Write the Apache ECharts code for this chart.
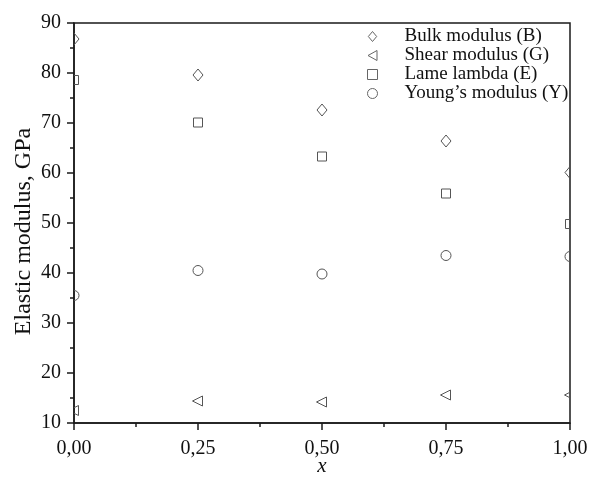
<!DOCTYPE html>
<html>
<head>
<meta charset="utf-8">
<script src="https://cdn.jsdelivr.net/npm/echarts@6/dist/echarts.min.js"></script>
<style>html,body{margin:0;padding:0;background:#fff}#c{width:599px;height:480px}</style>
</head>
<body>
<div id="c"></div>
<script>
var xValues = [0, 0.25, 0.5, 0.75, 1.0];
var bulk  = [86.8, 79.6, 72.6, 66.4, 60.1];
var shear = [12.5, 14.4, 14.2, 15.6, 15.6];
var lame  = [78.6, 70.1, 63.3, 55.9, 49.8];
var young = [35.5, 40.5, 39.8, 43.5, 43.3];
var seriesNames = ['Bulk modulus (B)', 'Shear modulus (G)', 'Lame lambda (E)', 'Young\u2019s modulus (Y)'];

var STROKE = '#555';
function pairs(ys){ return xValues.map(function(x,i){ return [x, ys[i]]; }); }

function shapeFor(kind, c){
  var cx = c[0], cy = c[1];
  var style = {fill: 'none', stroke: STROKE, lineWidth: 1};
  if (kind === 'diamond') return {type:'polygon', shape:{points:[[cx,cy-6],[cx+5,cy],[cx,cy+6],[cx-5,cy]]}, style: style};
  if (kind === 'triangle') return {type:'polygon', shape:{points:[[cx-5.5,cy],[cx+4.5,cy-5],[cx+4.5,cy+5]]}, style: style};
  if (kind === 'rect') return {type:'rect', shape:{x:cx-4.5, y:cy-4.5, width:9, height:9}, style: style};
  return {type:'circle', shape:{cx:cx, cy:cy, r:5}, style: style};
}
function mkSeries(name, ys, kind){
  return {
    type: 'custom', name: name, clip: true,
    data: pairs(ys),
    encode: {x: 0, y: 1},
    renderItem: function(params, api){
      var c = api.coord([api.value(0), api.value(1)]);
      return shapeFor(kind, c);
    }
  };
}
var iconStyle = {color: 'rgba(0,0,0,0)', borderColor: '#666', borderWidth: 1};
var icons = [
  'path://M5,0 L10,6 L5,12 L0,6 Z',
  'path://M0,5 L9,0 L9,10 Z',
  'path://M0,0 L9,0 L9,9 L0,9 Z',
  'circle'
];
var FONT = '"Liberation Serif", "DejaVu Serif", serif';
var chart = echarts.init(document.getElementById('c'), null, {renderer: 'canvas'});
chart.setOption({
  backgroundColor: '#fff',
  animation: false,
  textStyle: {fontFamily: FONT},
  grid: {left: 74, right: 29, top: 23, bottom: 57, outerBoundsMode: 'none', containLabel: false,
         show: true, borderColor: '#1a1a1a', borderWidth: 1.5, backgroundColor: 'transparent'},
  legend: {
    orient: 'vertical', left: 362, top: 22,
    itemWidth: 54, itemHeight: 10, itemGap: 0,
    symbolKeepAspect: true,
    textStyle: {fontFamily: FONT, fontSize: 19, color: '#111', lineHeight: 18},
    data: seriesNames.map(function(n, i){ return {name: n, icon: icons[i], itemStyle: iconStyle}; })
  },
  xAxis: {
    type: 'value', min: 0, max: 1, interval: 0.25,
    name: 'x', nameLocation: 'middle', nameGap: 33, nameMoveOverlap: false,
    nameTextStyle: {fontFamily: FONT, fontSize: 21, fontStyle: 'italic', color: '#111'},
    axisLine: {show: true, lineStyle: {color: '#1a1a1a', width: 1.5}},
    axisTick: {show: true, length: 7, lineStyle: {color: '#1a1a1a', width: 1.5}},
    minorTick: {show: true, splitNumber: 2, length: 4, lineStyle: {color: '#1a1a1a', width: 1.5}},
    splitLine: {show: false},
    axisLabel: {fontFamily: FONT, fontSize: 20, color: '#111', margin: 16,
      formatter: function(v){ return v.toFixed(2).replace('.', ','); }}
  },
  yAxis: {
    type: 'value', min: 10, max: 90, interval: 10,
    name: 'Elastic modulus, GPa', nameLocation: 'middle', nameGap: 38, nameMoveOverlap: false,
    nameTextStyle: {fontFamily: FONT, fontSize: 24, color: '#111', padding: [0, 17, 0, 0]},
    axisLine: {show: true, lineStyle: {color: '#1a1a1a', width: 1.5}},
    axisTick: {show: true, length: 7, lineStyle: {color: '#1a1a1a', width: 1.5}},
    minorTick: {show: true, splitNumber: 2, length: 4, lineStyle: {color: '#1a1a1a', width: 1.5}},
    splitLine: {show: false},
    axisLabel: {fontFamily: FONT, fontSize: 20, color: '#111', margin: 13}
  },
  series: [
    mkSeries(seriesNames[0], bulk, 'diamond'),
    mkSeries(seriesNames[1], shear, 'triangle'),
    mkSeries(seriesNames[2], lame, 'rect'),
    mkSeries(seriesNames[3], young, 'circle')
  ]
});
</script>
</body>
</html>
